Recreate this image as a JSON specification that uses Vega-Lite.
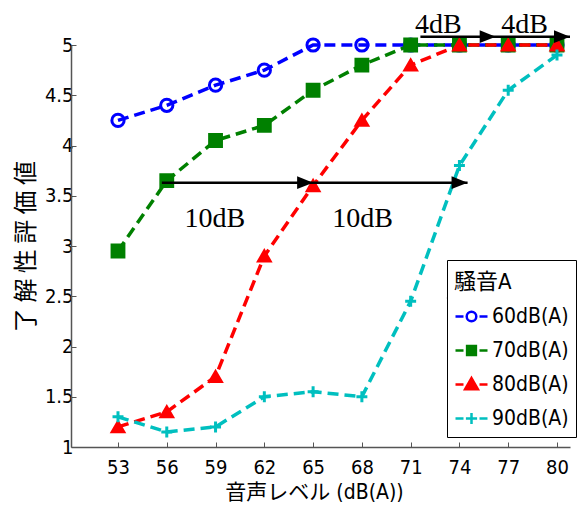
{
  "$schema": "https://vega.github.io/schema/vega-lite/v6.json",
  "width": 499,
  "height": 402,
  "autosize": {"type": "none"},
  "padding": {"left": 71, "top": 45, "right": 9, "bottom": 64},
  "background": "white",
  "config": {"view": {"stroke": null}},
  "layer": [
    {
      "data": {"values": [
        {"level": 53, "score": 4.25, "series": "60dB(A)", "marker": "o"},
        {"level": 56, "score": 4.4, "series": "60dB(A)", "marker": "o"},
        {"level": 59, "score": 4.6, "series": "60dB(A)", "marker": "o"},
        {"level": 62, "score": 4.75, "series": "60dB(A)", "marker": "o"},
        {"level": 65, "score": 5.0, "series": "60dB(A)", "marker": "o"},
        {"level": 68, "score": 5.0, "series": "60dB(A)", "marker": "o"},
        {"level": 71, "score": 5.0, "series": "60dB(A)", "marker": "o"},
        {"level": 74, "score": 5.0, "series": "60dB(A)", "marker": "o"},
        {"level": 77, "score": 5.0, "series": "60dB(A)", "marker": "o"},
        {"level": 80, "score": 5.0, "series": "60dB(A)", "marker": "o"},
        {"level": 53, "score": 2.95, "series": "70dB(A)", "marker": "s"},
        {"level": 56, "score": 3.65, "series": "70dB(A)", "marker": "s"},
        {"level": 59, "score": 4.05, "series": "70dB(A)", "marker": "s"},
        {"level": 62, "score": 4.2, "series": "70dB(A)", "marker": "s"},
        {"level": 65, "score": 4.55, "series": "70dB(A)", "marker": "s"},
        {"level": 68, "score": 4.8, "series": "70dB(A)", "marker": "s"},
        {"level": 71, "score": 5.0, "series": "70dB(A)", "marker": "s"},
        {"level": 74, "score": 5.0, "series": "70dB(A)", "marker": "s"},
        {"level": 77, "score": 5.0, "series": "70dB(A)", "marker": "s"},
        {"level": 80, "score": 5.0, "series": "70dB(A)", "marker": "s"},
        {"level": 53, "score": 1.2, "series": "80dB(A)", "marker": "t"},
        {"level": 56, "score": 1.35, "series": "80dB(A)", "marker": "t"},
        {"level": 59, "score": 1.7, "series": "80dB(A)", "marker": "t"},
        {"level": 62, "score": 2.9, "series": "80dB(A)", "marker": "t"},
        {"level": 65, "score": 3.6, "series": "80dB(A)", "marker": "t"},
        {"level": 68, "score": 4.25, "series": "80dB(A)", "marker": "t"},
        {"level": 71, "score": 4.8, "series": "80dB(A)", "marker": "t"},
        {"level": 74, "score": 5.0, "series": "80dB(A)", "marker": "t"},
        {"level": 77, "score": 5.0, "series": "80dB(A)", "marker": "t"},
        {"level": 80, "score": 5.0, "series": "80dB(A)", "marker": "t"},
        {"level": 53, "score": 1.3, "series": "90dB(A)", "marker": "p"},
        {"level": 56, "score": 1.15, "series": "90dB(A)", "marker": "p"},
        {"level": 59, "score": 1.2, "series": "90dB(A)", "marker": "p"},
        {"level": 62, "score": 1.5, "series": "90dB(A)", "marker": "p"},
        {"level": 65, "score": 1.55, "series": "90dB(A)", "marker": "p"},
        {"level": 68, "score": 1.5, "series": "90dB(A)", "marker": "p"},
        {"level": 71, "score": 2.45, "series": "90dB(A)", "marker": "p"},
        {"level": 74, "score": 3.8, "series": "90dB(A)", "marker": "p"},
        {"level": 77, "score": 4.55, "series": "90dB(A)", "marker": "p"},
        {"level": 80, "score": 4.9, "series": "90dB(A)", "marker": "p"}
      ]},
      "encoding": {
        "x": {
          "field": "level", "type": "quantitative",
          "scale": {"domain": [50.11, 80.8], "nice": false, "zero": false},
          "axis": {
            "values": [53, 56, 59, 62, 65, 68, 71, 74, 77, 80],
            "title": "音声レベル (dB(A))",
            "titleFont": "DejaVu Sans Condensed, Noto Sans CJK JP",
            "titleFontSize": 21, "titleFontWeight": "normal", "titleColor": "black",
            "titleX": 243, "titleY": 45, "titleBaseline": "middle", "titleAnchor": "middle", "titleAlign": "center",
            "labelFont": "DejaVu Sans Condensed", "labelFontSize": 20, "labelColor": "black",
            "labelPadding": 15, "tickSize": -5, "tickColor": "#555", "tickWidth": 1,
            "domainColor": "#555", "domainWidth": 1.5, "grid": false, "labelFlush": false
          }
        },
        "y": {
          "field": "score", "type": "quantitative",
          "scale": {"domain": [1, 5], "nice": false, "zero": false},
          "axis": {
            "values": [1, 1.5, 2, 2.5, 3, 3.5, 4, 4.5, 5],
            "format": "~g",
            "title": "了 解 性 評 価 値",
            "titleFont": "Noto Sans CJK JP", "titleFontSize": 24, "titleFontWeight": "normal", "titleColor": "black",
            "titleX": -45, "titleY": 201, "titleAngle": -90, "titleBaseline": "middle", "titleAlign": "center",
            "labelFont": "DejaVu Sans Condensed", "labelFontSize": 20, "labelColor": "black",
            "labelPadding": 3, "tickSize": -5, "tickColor": "#555", "tickWidth": 1,
            "domainColor": "#555", "domainWidth": 1.5, "grid": false, "labelFlush": false
          }
        },
        "color": {
          "field": "series", "type": "nominal",
          "scale": {"domain": ["60dB(A)", "70dB(A)", "80dB(A)", "90dB(A)"], "range": ["#0000ff", "#008000", "#ff0000", "#00bfbf"]},
          "legend": {
            "title": "騒音A", "orient": "none", "legendX": 376, "legendY": 215,
            "strokeColor": "black", "fillColor": "white", "padding": 7,
            "titleFont": "DejaVu Sans Condensed, Noto Sans CJK JP", "titleFontSize": 22, "titleFontWeight": "normal", "titleColor": "black",
            "titlePadding": 17,
            "labelFont": "DejaVu Sans Condensed", "labelFontSize": 21, "labelColor": "black", "labelOffset": 10,
            "symbolOffset": 7, "symbolSize": 256, "symbolStrokeWidth": 2.5, "rowPadding": 12,
            "encode": {
              "title": {"update": {"dy": {"value": 5}}},
              "symbols": {"update": {
                "shape": {"signal": "datum.value === '60dB(A)' ? 'M-2,0H-1M1,0H2M-0.6,0A0.6,0.6 0 1,1 0.6,0A0.6,0.6 0 1,1 -0.6,0' : datum.value === '70dB(A)' ? 'M-2,0H-1M1,0H2M-0.55,-0.55H0.55V0.55H-0.55Z' : datum.value === '80dB(A)' ? 'M-2,0H-1M1,0H2M0,-0.8L0.8,0.6H-0.8Z' : 'M-2,0H-1M1,0H2M-0.7,0H0.7M0,-0.7V0.7'"},
                "fill": {"signal": "datum.value === '70dB(A)' ? '#008000' : datum.value === '80dB(A)' ? '#ff0000' : 'transparent'"},
                "strokeWidth": {"value": 2.5}
              }}
            }
          }
        }
      },
      "layer": [
        {"mark": {"type": "line", "strokeDash": [11, 6], "strokeWidth": 3.5}},
        {
          "mark": {"type": "point", "filled": false, "strokeWidth": 3, "opacity": 1},
          "encoding": {
            "shape": {
              "field": "marker", "type": "nominal",
              "scale": {"domain": ["o", "s", "t", "p"], "range": ["circle", "square", "triangle-up", "M-1,0H1M0,-1V1"]},
              "legend": null
            },
            "size": {
              "field": "marker", "type": "nominal",
              "scale": {"domain": ["o", "s", "t", "p"], "range": [150, 120, 260, 200]},
              "legend": null
            },
            "fill": {
              "field": "marker", "type": "nominal",
              "scale": {"domain": ["o", "s", "t", "p"], "range": ["transparent", "#008000", "#ff0000", "transparent"]},
              "legend": null
            }
          }
        }
      ]
    },
    {
      "data": {"values": [
        {"ax": 55.7, "ax2": 74.5, "ay": 3.63},
        {"ax": 71.6, "ax2": 80.8, "ay": 5.083}
      ]},
      "mark": {"type": "rule", "color": "black", "strokeWidth": 2.5},
      "encoding": {
        "x": {"field": "ax", "type": "quantitative"},
        "x2": {"field": "ax2"},
        "y": {"field": "ay", "type": "quantitative"}
      }
    },
    {
      "data": {"values": [
        {"tx": 65, "ty": 3.63},
        {"tx": 74.5, "ty": 3.63},
        {"tx": 76.23, "ty": 5.083},
        {"tx": 80.8, "ty": 5.083}
      ]},
      "mark": {"type": "point", "shape": "M1,0L-1,-0.8L-1,0.8Z", "filled": true, "color": "black", "opacity": 1, "size": 256, "xOffset": -8},
      "encoding": {
        "x": {"field": "tx", "type": "quantitative"},
        "y": {"field": "ty", "type": "quantitative"}
      }
    },
    {
      "data": {"values": [
        {"lx": 58.96, "ly": 3.189, "label": "10dB"},
        {"lx": 68.05, "ly": 3.189, "label": "10dB"},
        {"lx": 72.7, "ly": 5.119, "label": "4dB"},
        {"lx": 78.0, "ly": 5.119, "label": "4dB"}
      ]},
      "mark": {"type": "text", "font": "Liberation Serif", "fontSize": 28, "baseline": "alphabetic", "align": "center", "color": "black"},
      "encoding": {
        "x": {"field": "lx", "type": "quantitative"},
        "y": {"field": "ly", "type": "quantitative"},
        "text": {"field": "label"}
      }
    },
    {
      "data": {"values": [
        {"sx": 73.23, "sx2": 80.74, "sy": 2.483}
      ]},
      "mark": {"type": "rule", "color": "black", "strokeWidth": 1.5},
      "encoding": {
        "x": {"field": "sx", "type": "quantitative"},
        "x2": {"field": "sx2"},
        "y": {"field": "sy", "type": "quantitative"}
      }
    }
  ]
}
